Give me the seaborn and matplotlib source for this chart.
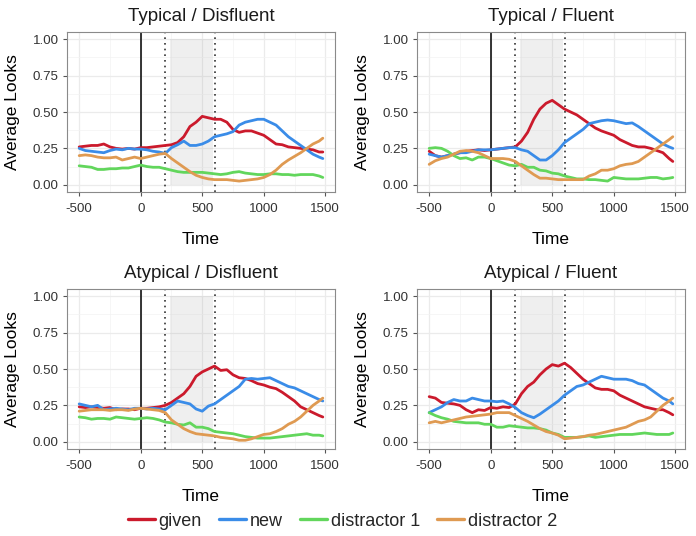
import matplotlib
matplotlib.use("Agg")
import matplotlib.pyplot as plt
import numpy as np
import pandas as pd
import seaborn as sns

# time grid (ms) of the averaged looks
time = np.append(np.arange(-500, 1451, 50), 1480)

panels = ["Typical / Disfluent", "Typical / Fluent", "Atypical / Disfluent", "Atypical / Fluent"]
series = ["given", "new", "distractor 1", "distractor 2"]
colors = ["#CB1A2C", "#3A8CE8", "#62D65C", "#DF9A52"]

td_given = [.26, .265, .27, .27, .28, .26, .25, .245, .25, .245, .255, .255, .26, .265, .27, .275, .29, .33, .40, .43,
            .47, .46, .45, .45, .43, .38, .36, .37, .37, .355, .34, .31, .28, .275, .26, .255, .25, .245, .24, .225, .225]
td_new = [.25, .235, .23, .225, .22, .235, .245, .24, .25, .245, .245, .24, .23, .225, .215, .255, .275, .30, .27, .27,
          .28, .30, .33, .34, .35, .365, .41, .43, .44, .45, .45, .43, .41, .37, .33, .30, .27, .24, .21, .19, .18]
td_d1 = [.13, .125, .12, .105, .105, .11, .11, .115, .115, .125, .135, .125, .12, .12, .11, .10, .09, .085, .085, .085,
         .085, .08, .075, .07, .075, .085, .09, .08, .075, .07, .07, .075, .075, .07, .07, .065, .07, .07, .07, .06, .05]
td_d2 = [.20, .205, .20, .19, .185, .185, .19, .17, .18, .19, .18, .19, .20, .21, .215, .18, .15, .12, .09, .065,
         .05, .04, .035, .035, .035, .03, .025, .03, .035, .04, .05, .07, .10, .14, .17, .195, .22, .25, .28, .30, .32]

tf_given = [.23, .20, .19, .20, .21, .22, .23, .235, .24, .235, .24, .245, .25, .255, .26, .30, .36, .45, .52, .56,
            .58, .55, .52, .50, .48, .45, .42, .39, .37, .355, .34, .31, .29, .27, .26, .26, .25, .235, .22, .18, .16]
tf_new = [.21, .20, .19, .20, .21, .22, .22, .23, .24, .24, .24, .245, .25, .255, .255, .24, .23, .20, .17, .17,
          .20, .24, .29, .32, .35, .38, .42, .43, .44, .445, .44, .43, .42, .425, .40, .37, .34, .31, .28, .26, .25]
tf_d1 = [.25, .255, .25, .23, .20, .18, .185, .17, .19, .19, .18, .165, .15, .135, .13, .14, .12, .12, .10, .095,
         .08, .075, .06, .05, .04, .04, .035, .035, .03, .025, .05, .045, .04, .04, .04, .045, .05, .05, .04, .045, .05]
tf_d2 = [.14, .165, .18, .19, .21, .23, .235, .23, .22, .20, .18, .18, .18, .175, .16, .13, .10, .07, .045, .045,
         .04, .035, .035, .035, .035, .035, .06, .075, .10, .10, .11, .13, .14, .145, .16, .19, .22, .25, .28, .31, .33]

ad_given = [.24, .235, .24, .235, .23, .235, .22, .225, .225, .22, .23, .23, .235, .24, .25, .27, .30, .33, .38, .45,
            .48, .50, .52, .49, .495, .46, .44, .435, .42, .40, .39, .375, .365, .34, .31, .28, .24, .22, .20, .18, .17]
ad_new = [.26, .25, .24, .25, .22, .225, .23, .225, .22, .23, .23, .225, .23, .225, .22, .25, .28, .27, .26, .225,
          .21, .245, .26, .29, .32, .35, .38, .43, .435, .43, .435, .44, .42, .40, .38, .37, .35, .33, .31, .29, .28]
ad_d1 = [.17, .165, .155, .16, .16, .155, .17, .165, .16, .155, .16, .165, .16, .15, .135, .13, .12, .115, .13, .10,
         .10, .09, .07, .065, .06, .055, .045, .035, .03, .025, .025, .025, .03, .035, .04, .045, .05, .055, .045, .045, .04]
ad_d2 = [.21, .215, .22, .22, .22, .215, .22, .22, .215, .225, .23, .225, .22, .215, .20, .15, .12, .09, .07, .055,
         .05, .045, .04, .03, .025, .02, .01, .01, .02, .035, .05, .055, .07, .09, .12, .14, .17, .21, .25, .28, .30]

af_given = [.31, .30, .27, .265, .26, .25, .22, .20, .22, .215, .235, .23, .24, .235, .26, .33, .38, .41, .46, .50,
            .53, .52, .54, .51, .47, .43, .40, .37, .36, .36, .35, .32, .30, .28, .26, .24, .23, .22, .22, .20, .185]
af_new = [.20, .22, .24, .27, .29, .28, .28, .30, .29, .28, .28, .275, .28, .26, .235, .20, .18, .165, .19, .22,
          .25, .28, .32, .35, .38, .39, .41, .43, .45, .44, .43, .43, .43, .42, .40, .39, .36, .33, .30, .28, .26]
af_d1 = [.20, .18, .165, .155, .14, .135, .13, .13, .13, .12, .12, .10, .10, .11, .105, .10, .095, .095, .09, .08,
         .06, .05, .03, .03, .03, .035, .04, .03, .035, .04, .045, .05, .05, .05, .055, .06, .055, .05, .05, .05, .06]
af_d2 = [.13, .14, .13, .14, .15, .16, .17, .175, .18, .185, .19, .20, .20, .20, .18, .16, .14, .115, .09, .07,
         .06, .045, .02, .025, .03, .035, .045, .05, .06, .07, .08, .09, .10, .12, .14, .15, .17, .21, .25, .28, .30]

looks = {
    "Typical / Disfluent": [td_given, td_new, td_d1, td_d2],
    "Typical / Fluent": [tf_given, tf_new, tf_d1, tf_d2],
    "Atypical / Disfluent": [ad_given, ad_new, ad_d1, ad_d2],
    "Atypical / Fluent": [af_given, af_new, af_d1, af_d2],
}

rows = []
for panel in panels:
    for name, vals in zip(series, looks[panel]):
        for t, v in zip(time, vals):
            rows.append({"panel": panel, "object": name, "Time": t, "Average Looks": v})
df = pd.DataFrame(rows)

sns.set_theme(style="white")
plt.rcParams["font.family"] = ["Liberation Sans", "DejaVu Sans"]
plt.rcParams["axes.unicode_minus"] = False

fig = plt.figure(figsize=(6.96, 5.36), dpi=100)
W, H = 696, 536
boxes = [(67, 32), (417, 32), (67, 289), (417, 289)]  # left, top in px
pw, ph = 268, 160

palette = dict(zip(series, colors))
for panel, (lx, ty) in zip(panels, boxes):
    ax = fig.add_axes([lx / W, (H - ty - ph) / H, pw / W, ph / H])
    ax.set_axisbelow(True)
    ax.set_xlim(-599, 1579)
    ax.set_ylim(-0.05, 1.05)
    ax.set_xticks([-500, 0, 500, 1000, 1500])
    ax.set_xticks([-250, 250, 750, 1250], minor=True)
    ax.set_yticks([0, 0.25, 0.5, 0.75, 1.0])
    ax.set_yticks([0.125, 0.375, 0.625, 0.875], minor=True)
    ax.set_yticklabels(["0.00", "0.25", "0.50", "0.75", "1.00"])
    ax.grid(which="major", color="#EBEBEB", lw=0.9)
    ax.grid(which="minor", color="#F3F3F3", lw=0.5)

    # window of interest
    ax.fill_between([235, 585], 0, 1, color="#9a9a9a", alpha=0.15, lw=0, zorder=1)
    ax.axvline(0, color="black", lw=1.1, zorder=2)
    for xv in (200, 600):
        ax.axvline(xv, color="#333333", lw=1.2, ls=(0, (1, 2.4)), zorder=2)

    sub = df[df["panel"] == panel]
    sns.lineplot(data=sub, x="Time", y="Average Looks", hue="object", hue_order=series,
                 palette=palette, lw=2.0, ax=ax, legend=False, zorder=3)

    ax.set_title(panel, fontsize=13.5, color="#1a1a1a", pad=8)
    ax.set_xlabel("Time", fontsize=12.5, color="black", labelpad=12)
    ax.set_ylabel("Average Looks", fontsize=12.5, color="black", labelpad=9)
    ax.tick_params(which="major", length=3, width=0.8, color="#555555", labelsize=9.6,
                   labelcolor="#333333", left=True, bottom=True, pad=3)
    ax.tick_params(axis="x", which="major", pad=5)
    ax.tick_params(which="minor", length=0)
    for s in ax.spines.values():
        s.set_color("#8a8a8a")
        s.set_linewidth(0.8)

handles = [plt.Line2D([], [], color=c, lw=2.4) for c in colors]
fig.legend(handles, series, loc="center", bbox_to_anchor=(0.492, 1 - 521 / H), ncol=4,
           frameon=False, fontsize=13, handlelength=1.5, handletextpad=0.2,
           columnspacing=0.95)

fig.savefig("out.png", dpi=100)
